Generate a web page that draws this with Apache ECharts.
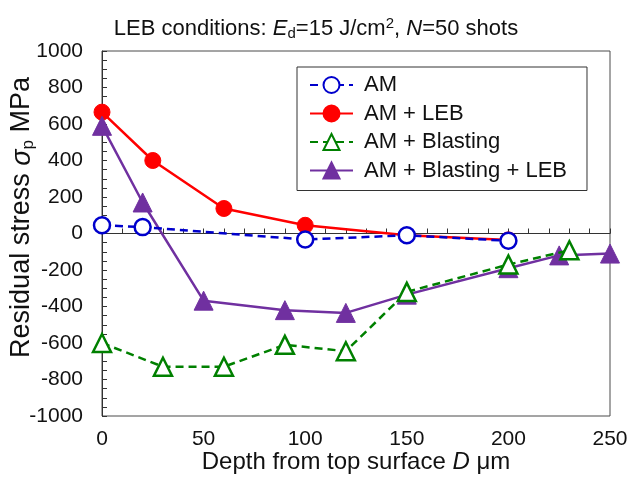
<!DOCTYPE html>
<html>
<head>
<meta charset="utf-8">
<script src="https://cdn.jsdelivr.net/npm/echarts@6/dist/echarts.min.js"></script>
<style>html,body{margin:0;padding:0;background:#fff}#c{width:630px;height:486px}</style>
</head>
<body>
<div id="c"></div>
<script>
// ---- data ----
var seriesNames = ['AM', 'AM + LEB', 'AM + Blasting', 'AM + Blasting + LEB'];
var xAM = [0, 20, 100, 150, 200];
var yAM = [45, 35, -33, -10, -40];
var xLEB = [0, 25, 60, 100, 150, 200];
var yLEB = [665, 400, 137, 45, -10, -35];
var xBlast = [0, 30, 60, 90, 120, 150, 200, 230];
var yBlast = [-600, -730, -730, -610, -645, -320, -170, -92];
var xBlastLEB = [0, 20, 50, 90, 120, 150, 200, 225, 250];
var yBlastLEB = [590, 170, -368, -420, -435, -335, -190, -120, -110];
var xTicks = [0, 50, 100, 150, 200, 250];
var yTicks = [-1000, -800, -600, -400, -200, 0, 200, 400, 600, 800, 1000];

function pairs(xs, ys) { return xs.map(function (x, i) { return [x, ys[i]]; }); }

var FONT = 'Liberation Sans, Arial, sans-serif';
var TXT = '#111';
var AX = '#333';

var chart = echarts.init(document.getElementById('c'), null, { renderer: 'canvas' });
var option = {
  animation: false,
  backgroundColor: '#fff',
  textStyle: { fontFamily: FONT, color: TXT },
  title: {
    text: '{n|LEB conditions: }{i|E}{sub|d}{n|=15 J/cm}{sup|2}{n|, }{i|N}{n|=50 shots}',
    left: 311, top: 11, textAlign: 'center',
    textStyle: {
      fontWeight: 'normal',
      rich: {
        n: { fontSize: 22, fontFamily: FONT, color: TXT, fontWeight: 'normal', lineHeight: 25 },
        i: { fontSize: 22, fontFamily: FONT, color: TXT, fontWeight: 'normal', fontStyle: 'italic', lineHeight: 25 },
        sub: { fontSize: 15, fontFamily: FONT, color: TXT, fontWeight: 'normal', verticalAlign: 'bottom', lineHeight: 15 },
        sup: { fontSize: 15, fontFamily: FONT, color: TXT, fontWeight: 'normal', verticalAlign: 'top', lineHeight: 15 }
      }
    }
  },
  legend: {
    data: seriesNames,
    orient: 'vertical',
    left: 297, top: 67,
    padding: [7, 20, 9, 12],
    itemGap: 6.5,
    itemWidth: 43, itemHeight: 20,
    backgroundColor: '#fff',
    borderColor: '#333', borderWidth: 1, borderRadius: 0,
    textStyle: { fontSize: 22, fontFamily: FONT, color: TXT, padding: [0, 0, 0, 6], lineHeight: 22 }
  },
  grid: {
    left: 102, right: 20, top: 51, bottom: 70,
    containLabel: false, outerBoundsMode: 'none',
    show: true, borderColor: '#4a4a4a', borderWidth: 1, backgroundColor: 'transparent'
  },
  xAxis: [
    {
      type: 'value', min: 0, max: 250, interval: 50, position: 'bottom',
      axisLine: { show: false, onZero: false },
      axisTick: { show: false },
      splitLine: { show: false },
      axisLabel: {
        fontSize: 21, fontFamily: FONT, color: TXT, margin: 13,
        formatter: function (v) { return xTicks.indexOf(v) >= 0 ? String(v) : ''; }
      },
      name: '{n|Depth from top surface }{i|D}{n| μm}',
      nameLocation: 'middle', nameGap: 34, nameMoveOverlap: false,
      nameTextStyle: {
        rich: {
          n: { fontSize: 24, fontFamily: FONT, color: TXT },
          i: { fontSize: 24, fontFamily: FONT, color: TXT, fontStyle: 'italic' }
        }
      }
    },
    {
      type: 'value', min: 0, max: 250, interval: 10, position: 'bottom',
      axisLine: { show: true, onZero: true, onZeroAxisIndex: 0, lineStyle: { color: AX, width: 1 } },
      axisTick: { show: true, inside: true, length: 5, lineStyle: { color: AX, width: 1 } },
      axisLabel: { show: false },
      splitLine: { show: false }
    }
  ],
  yAxis: {
    type: 'value', min: -1000, max: 1000, interval: 200,
    axisLine: { show: true, onZero: false, lineStyle: { color: AX, width: 1 } },
    axisTick: { show: true, inside: true, length: 5, lineStyle: { color: AX, width: 1 } },
    minorTick: { show: true, splitNumber: 4, length: 5, lineStyle: { color: AX, width: 1 } },
    splitLine: { show: false },
    axisLabel: {
      fontSize: 21, fontFamily: FONT, color: TXT, margin: 19,
      formatter: function (v) { return yTicks.indexOf(v) >= 0 ? String(v) : ''; }
    },
    name: '{n|Residual stress }{i|σ}{sub|p}{n| MPa}',
    nameLocation: 'middle', nameGap: 65, nameRotate: 90, nameMoveOverlap: false,
    nameTextStyle: {
      padding: [0, 0, 0, 32],
      rich: {
        n: { fontSize: 27, fontFamily: FONT, color: TXT, lineHeight: 30 },
        i: { fontSize: 27, fontFamily: FONT, color: TXT, fontStyle: 'italic', lineHeight: 30 },
        sub: { fontSize: 17, fontFamily: FONT, color: TXT, verticalAlign: 'bottom', lineHeight: 17 }
      }
    }
  },
  series: [
    {
      name: seriesNames[0], type: 'line', xAxisIndex: 0, z: 4,
      data: pairs(xAM, yAM),
      symbol: 'circle', symbolSize: 16, showAllSymbol: true,
      lineStyle: { color: '#0000CC', width: 2.5, type: [8, 5] },
      itemStyle: { color: '#ffffff', borderColor: '#0000CC', borderWidth: 2.5 }
    },
    {
      name: seriesNames[1], type: 'line', xAxisIndex: 0, z: 2,
      data: pairs(xLEB, yLEB),
      symbol: 'circle', symbolSize: 16, showAllSymbol: true,
      lineStyle: { color: '#FF0000', width: 2.5 },
      itemStyle: { color: '#FF0000', borderColor: '#FF0000', borderWidth: 1 }
    },
    {
      name: seriesNames[2], type: 'line', xAxisIndex: 0, z: 4,
      data: pairs(xBlast, yBlast),
      symbol: 'triangle', symbolSize: 18, showAllSymbol: true,
      lineStyle: { color: '#008000', width: 2.5, type: [8, 5] },
      itemStyle: { color: '#ffffff', borderColor: '#008000', borderWidth: 2.5 }
    },
    {
      name: seriesNames[3], type: 'line', xAxisIndex: 0, z: 2,
      data: pairs(xBlastLEB, yBlastLEB),
      symbol: 'triangle', symbolSize: 19, showAllSymbol: true,
      lineStyle: { color: '#7030A0', width: 2.5 },
      itemStyle: { color: '#7030A0', borderColor: '#7030A0', borderWidth: 1 }
    }
  ]
};
chart.setOption(option);
</script>
</body>
</html>
